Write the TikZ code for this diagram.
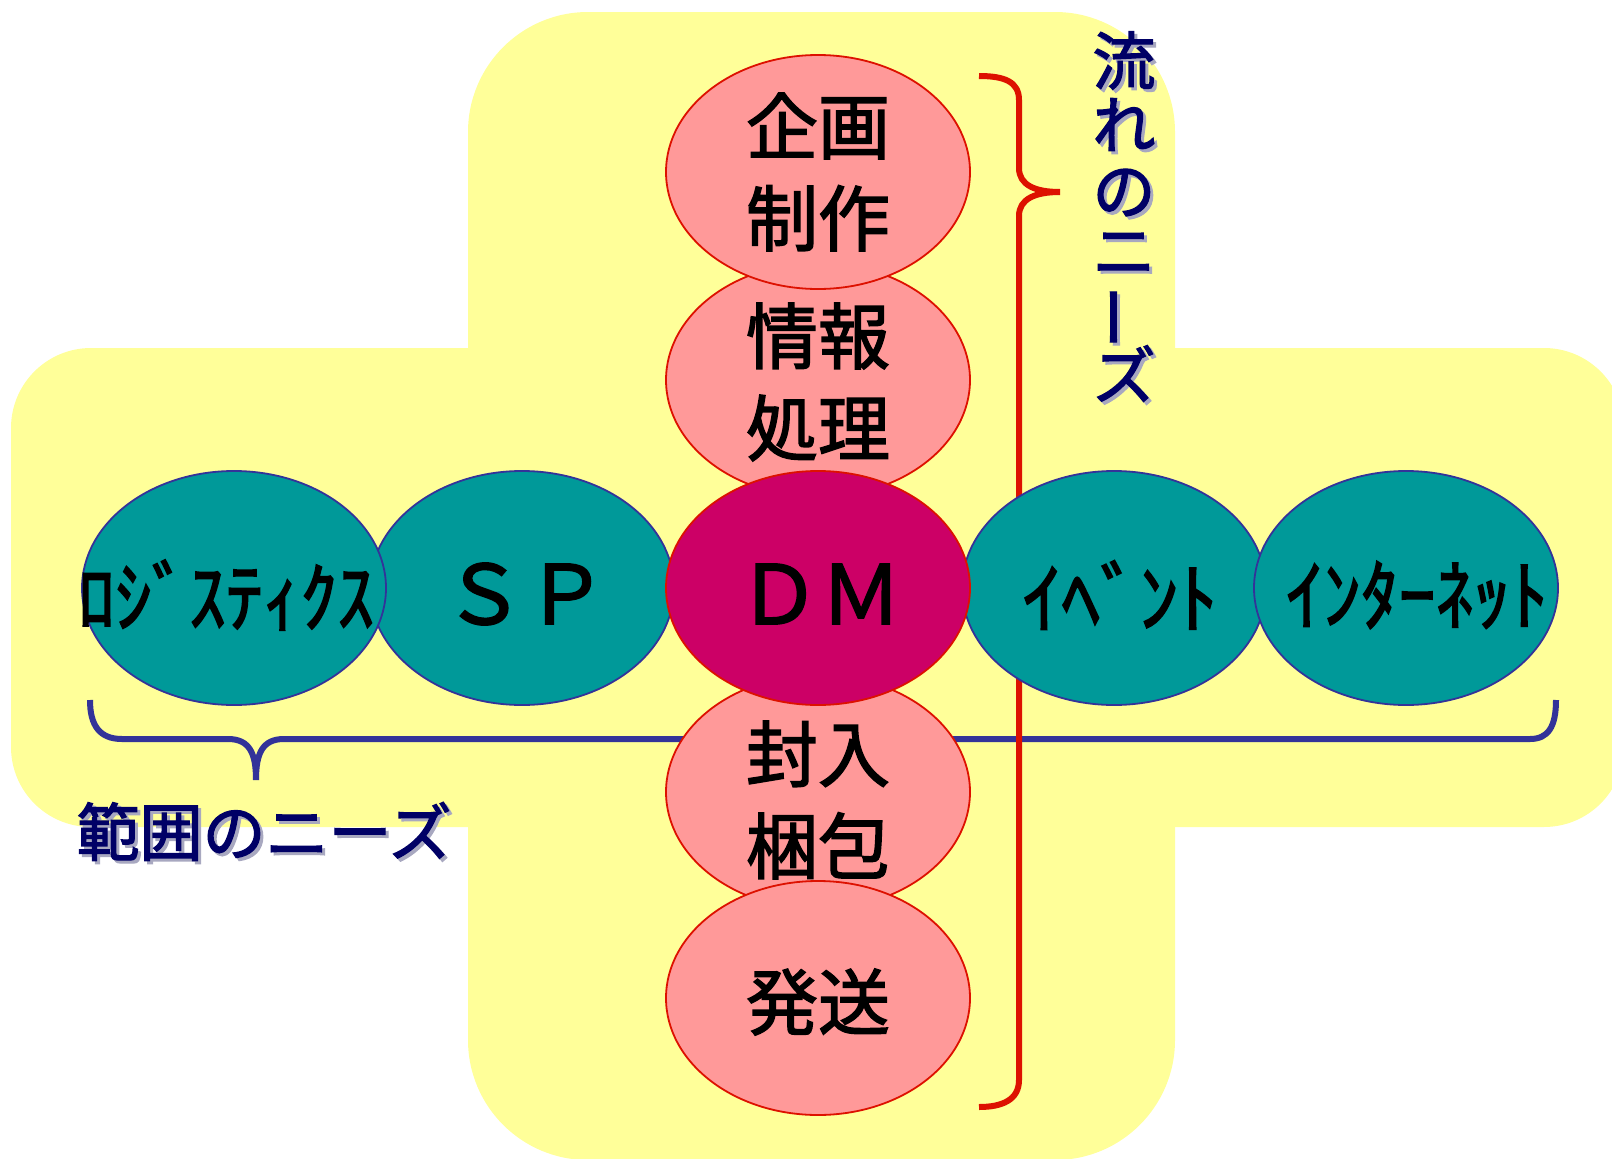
\documentclass[tikz,border=0pt]{standalone}
\usepackage{fontspec}
\usetikzlibrary{shapes.geometric}
\newfontfamily\jp[FakeBold=2]{Noto Sans CJK JP}
\definecolor{bgyellow}{HTML}{FFFF99}
\definecolor{tealfill}{HTML}{009999}
\definecolor{tealedge}{HTML}{333399}
\definecolor{pinkfill}{HTML}{FF9999}
\definecolor{pinkedge}{HTML}{DD1100}
\definecolor{dmfill}{HTML}{CC0066}
\definecolor{navy}{HTML}{000066}
\definecolor{shgray}{HTML}{A8A8C0}
\definecolor{bracered}{HTML}{DD1100}
\definecolor{braceblue}{HTML}{333399}
\newcommand\shd[1]{\makebox[0pt][l]{\hspace*{3pt}\raisebox{-3pt}{\textcolor{shgray}{#1}}}#1}
\begin{document}
\begin{tikzpicture}[x=1pt,y=-1pt,
  ell/.style={ellipse, minimum width=304pt, minimum height=234pt, inner sep=0pt, line width=1.8pt},
  tealE/.style={ell, draw=tealedge, fill=tealfill},
  pinkE/.style={ell, draw=pinkedge, fill=pinkfill},
  dmE/.style={ell, draw=pinkedge, fill=dmfill},
  kanji/.style={inner sep=0pt, align=center, text=black, font=\jp\fontsize{72}{92}\selectfont},
  kana/.style={inner sep=0pt, text=black, font=\jp\fontsize{78}{90}\selectfont},
  latin/.style={inner sep=0pt, text=black, font=\jp\fontsize{82}{90}\selectfont},
  needs/.style={inner sep=0pt, text=navy, font=\jp\fontsize{63}{70}\selectfont},
  redbrace/.style={draw=bracered, line width=6pt},
  bluebrace/.style={draw=braceblue, line width=6pt}]
\useasboundingbox (0,0) rectangle (1612,1159);
% background cross
\fill[bgyellow, rounded corners=120pt] (468,12) rectangle (1175,1160);
\fill[bgyellow, rounded corners=80pt] (11,348) rectangle (1624,827);
% braces
\draw[bluebrace] (90,700) .. controls (90,726) and (100,739) .. (122,739) -- (228,739)
  .. controls (250,739) and (256,754) .. (256,780)
  .. controls (256,754) and (262,739) .. (284,739) -- (1530,739)
  .. controls (1548,739) and (1556,727) .. (1556,700);
\draw[redbrace] (979,76) .. controls (1005,76) and (1019,82) .. (1019,100) -- (1019,168)
  .. controls (1019,185) and (1035,192) .. (1060,192)
  .. controls (1035,192) and (1019,199) .. (1019,216) -- (1019,1080)
  .. controls (1019,1100) and (1002,1107) .. (979,1107);
% horizontal ellipses
\node[tealE] (sp) at (522,588) {};
\node[tealE] (logi) at (234,588) {};
\node[tealE] (event) at (1114,588) {};
\node[tealE] (inet) at (1406,588) {};
% vertical ellipses
\node[pinkE] (info) at (818,380) {};
\node[pinkE] (plan) at (818,172) {};
\node[pinkE] (pack) at (818,792) {};
\node[pinkE] (ship) at (818,998) {};
\node[dmE] (dm) at (818,588) {};
% labels
\node[kanji] (planT) at (818,172) {企画\\制作};
\node[kanji] (infoT) at (818,382) {情報\\処理};
\node[kanji] (packT) at (818,800) {封入\\梱包};
\node[kanji] (shipT) at (818,1002) {発送};
\node[latin] (dmT) at (820,594) {ＤＭ};
\node[latin] (spT) at (525,594) {ＳＰ};
\node[kana] (logiT) at (226,595) {\scalebox{0.95}[1]{ﾛｼﾞｽﾃｨｸｽ}};
\node[kana] (eventT) at (1120,595) {ｲﾍﾞﾝﾄ};
\node[kana] (inetT) at (1417,595) {\scalebox{0.96}[1]{ｲﾝﾀｰﾈｯﾄ}};
% needs labels
\node[needs] (rangeT) at (264,833) {\shd{範囲のニーズ}};
\node[needs] (flow1) at (1124,62) {\shd{流}};
\node[needs] (flow2) at (1124,126) {\shd{れ}};
\node[needs] (flow3) at (1124,194) {\shd{の}};
\node[needs] (flow4) at (1124,255) {\shd{ニ}};
\node[needs, text=shgray, rotate=90] (flow5s) at (1127,320) {ー};
\node[needs, rotate=90] (flow5) at (1124,317) {ー};
\node[needs] (flow6) at (1124,375) {\shd{ズ}};
\end{tikzpicture}
\end{document}
